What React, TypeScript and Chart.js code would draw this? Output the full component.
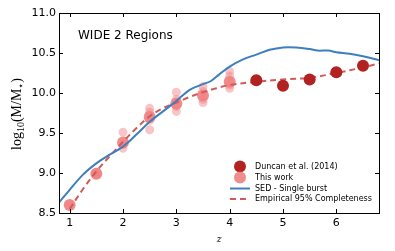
import React, { useEffect, useRef } from "react";
import { Chart, registerables } from "chart.js";

Chart.register(...registerables);

// Duncan et al. (2014)
const zDuncan = [4.5, 5.0, 5.5, 6.0, 6.5];
const mDuncan = [10.16, 10.09, 10.17, 10.26, 10.34];

// This work: main (median) points
const zThisWork = [1.0, 1.5, 2.0, 2.5, 3.0, 3.5, 4.0];
const mThisWork = [8.6, 8.99, 9.38, 9.7, 9.87, 9.97, 10.14];

// This work: individual field points
const zThisWorkFields = [1.0, 1.5, 1.5, 2.0, 2.0, 2.0, 2.5, 2.5, 2.5, 2.5, 3.0, 3.0, 3.0, 3.0, 3.5, 3.5, 3.5, 3.5, 4.0, 4.0, 4.0, 4.0];
const mThisWorkFields = [8.61, 8.98, 9.01, 9.51, 9.36, 9.31, 9.81, 9.76, 9.66, 9.54, 10.01, 9.92, 9.83, 9.77, 10.08, 10.02, 9.92, 9.88, 10.27, 10.21, 10.1, 10.06];

// SED - Single burst
const zSED = [0.8, 1.0, 1.25, 1.5, 1.75, 2.0, 2.25, 2.5, 2.75, 3.0, 3.25, 3.5, 3.65, 3.8, 4.0, 4.25, 4.5, 4.75, 5.0, 5.25, 5.5, 5.65, 5.85, 6.0, 6.25, 6.5, 6.8];
const mSED = [8.63, 8.79, 8.98, 9.12, 9.23, 9.33, 9.48, 9.64, 9.77, 9.9, 10.04, 10.11, 10.15, 10.23, 10.33, 10.42, 10.48, 10.54, 10.57, 10.57, 10.55, 10.53, 10.53, 10.51, 10.49, 10.46, 10.41];

// Empirical 95% Completeness
const zEmp = [1.0, 1.25, 1.5, 1.75, 2.0, 2.25, 2.5, 2.75, 3.0, 3.25, 3.5, 3.75, 4.0, 4.5, 5.0, 5.5, 6.0, 6.5, 6.8];
const mEmp = [8.55, 8.8, 9.02, 9.21, 9.39, 9.56, 9.71, 9.81, 9.88, 9.95, 10.01, 10.06, 10.1, 10.14, 10.17, 10.19, 10.25, 10.32, 10.37];

const xTicks = [1, 2, 3, 4, 5, 6];
const yTicks = [8.5, 9.0, 9.5, 10.0, 10.5, 11.0];

const TITLE_TEXT = "WIDE 2 Regions";

const zip = (xs: number[], ys: number[]) => xs.map((x, i) => ({ x, y: ys[i] }));

const COL_DUNCAN = "#b22222";
const COL_THIS = "rgba(240,128,128,0.9)";
const COL_THIS_LIGHT = "rgba(240,128,128,0.45)";
const COL_SED = "#3d7fbf";
const COL_EMP = "#d15b5b";

const framePlugin = {
  id: "frameTicks",
  afterDraw(chart: any) {
    const ctx = chart.ctx;
    const { left, right, top, bottom } = chart.chartArea;
    const xs = chart.scales.x;
    const ys = chart.scales.y;
    ctx.save();
    ctx.strokeStyle = "#000";
    ctx.lineWidth = 1;
    // ticks inward
    ctx.beginPath();
    xTicks.forEach((v) => {
      const px = Math.round(xs.getPixelForValue(v)) + 0.5;
      ctx.moveTo(px, bottom);
      ctx.lineTo(px, bottom - 4);
      ctx.moveTo(px, top);
      ctx.lineTo(px, top + 4);
    });
    yTicks.forEach((v) => {
      const py = Math.round(ys.getPixelForValue(v)) + 0.5;
      ctx.moveTo(left, py);
      ctx.lineTo(left + 4, py);
      ctx.moveTo(right, py);
      ctx.lineTo(right - 4, py);
    });
    ctx.stroke();
    ctx.strokeRect(Math.round(left) + 0.5, Math.round(top) + 0.5, Math.round(right - left), Math.round(bottom - top));

    // annotation text
    ctx.fillStyle = "#000";
    ctx.font = "12px 'DejaVu Sans'";
    ctx.textBaseline = "middle";
    ctx.textAlign = "left";
    ctx.fillText(TITLE_TEXT, 78, 36);

    // x title
    ctx.font = "italic 9px 'DejaVu Serif'";
    ctx.textAlign = "center";
    ctx.fillText("z", 219, 240);

    // y title (rotated, with subscripts)
    ctx.translate(17, 114);
    ctx.rotate(-Math.PI / 2);
    const big = "14px 'Liberation Serif', 'DejaVu Serif'";
    const small = "10px 'Liberation Serif', 'DejaVu Serif'";
    const parts: [string, string, number][] = [
      ["log", big, 0],
      ["10", small, 3],
      ["(M/M", big, 0],
      ["\u22c6", small, 3],
      [")", big, 0],
    ];
    let total = 0;
    parts.forEach(([t, f]) => {
      ctx.font = f;
      total += ctx.measureText(t).width;
    });
    let cx = -total / 2;
    ctx.textAlign = "left";
    ctx.textBaseline = "alphabetic";
    parts.forEach(([t, f, dy]) => {
      ctx.font = f;
      ctx.fillText(t, cx, 4 + dy);
      cx += ctx.measureText(t).width;
    });
    ctx.restore();

    // legend
    const entries = chart.data.datasets.filter((d: any) => d.legendKind);
    ctx.save();
    ctx.font = "8px 'DejaVu Sans'";
    ctx.textBaseline = "middle";
    ctx.textAlign = "left";
    const rowsY = [166.5, 177.5, 188.5, 199];
    entries.forEach((d: any, i: number) => {
      const y = rowsY[i];
      if (d.legendKind === "point") {
        ctx.fillStyle = d.legendColor;
        ctx.beginPath();
        ctx.arc(240, y, 6, 0, Math.PI * 2);
        ctx.fill();
      } else {
        ctx.strokeStyle = d.borderColor;
        ctx.lineWidth = 2;
        ctx.setLineDash(d.borderDash || []);
        ctx.beginPath();
        ctx.moveTo(230, y);
        ctx.lineTo(250, y);
        ctx.stroke();
        ctx.setLineDash([]);
      }
      ctx.fillStyle = "#000";
      ctx.fillText(d.label, 255, y);
    });
    ctx.restore();
  },
};

export default function App() {
  const ref = useRef<HTMLCanvasElement>(null);
  useEffect(() => {
    document.body.style.margin = "0";
    const canvas = ref.current!;
    const chart = new Chart(canvas, {
      type: "scatter",
      data: {
        datasets: [
          {
            label: "Duncan et al. (2014)",
            data: zip(zDuncan, mDuncan),
            backgroundColor: COL_DUNCAN,
            borderWidth: 0,
            pointRadius: 6,
            order: 0,
            legendKind: "point",
            legendColor: COL_DUNCAN,
          } as any,
          {
            label: "This work",
            data: zip(zThisWork, mThisWork),
            backgroundColor: COL_THIS,
            borderWidth: 0,
            pointRadius: 6,
            order: 3,
            legendKind: "point",
            legendColor: COL_THIS,
          } as any,
          {
            type: "line",
            label: "SED - Single burst",
            data: zip(zSED, mSED),
            borderColor: COL_SED,
            borderWidth: 2,
            pointRadius: 0,
            showLine: true,
            tension: 0.35,
            fill: false,
            order: 1,
            legendKind: "line",
          } as any,
          {
            type: "line",
            label: "Empirical 95% Completeness",
            data: zip(zEmp, mEmp),
            borderColor: COL_EMP,
            borderWidth: 2,
            borderDash: [6, 4],
            pointRadius: 0,
            showLine: true,
            tension: 0.35,
            fill: false,
            order: 2,
            legendKind: "line",
          } as any,
          {
            label: "This work (fields)",
            data: zip(zThisWorkFields, mThisWorkFields),
            backgroundColor: COL_THIS_LIGHT,
            borderWidth: 0,
            pointRadius: 4.5,
            order: 4,
          } as any,
        ],
      },
      options: {
        responsive: false,
        animation: false,
        devicePixelRatio: 1,
        clip: { left: 0, right: 0, top: 0, bottom: 0 } as any,
        layout: { padding: { left: 0, right: 16, top: 13, bottom: 0 } },
        plugins: { legend: { display: false }, tooltip: { enabled: false } },
        scales: {
          x: {
            type: "linear",
            min: 0.8,
            max: 6.8,
            grid: { display: false, drawTicks: false },
            border: { display: false },
            afterBuildTicks: (s: any) => {
              s.ticks = xTicks.map((v) => ({ value: v }));
            },
            afterFit: (s: any) => {
              s.height = 38;
            },
            ticks: {
              padding: 4,
              color: "#000",
              font: { family: "'DejaVu Sans'", size: 11 },
              callback: (v: any) => String(v),
            },
          },
          y: {
            type: "linear",
            min: 8.5,
            max: 11.0,
            grid: { display: false, drawTicks: false },
            border: { display: false },
            afterBuildTicks: (s: any) => {
              s.ticks = yTicks.map((v) => ({ value: v }));
            },
            afterFit: (s: any) => {
              s.width = 59;
            },
            ticks: {
              padding: 3,
              color: "#000",
              font: { family: "'DejaVu Sans'", size: 11 },
              callback: (v: any) => Number(v).toFixed(1),
            },
          },
        },
      },
      plugins: [framePlugin],
    });
    return () => chart.destroy();
  }, []);
  return (
    <div style={{ width: 395, height: 251 }}>
      <canvas ref={ref} width={395} height={251} />
    </div>
  );
}
